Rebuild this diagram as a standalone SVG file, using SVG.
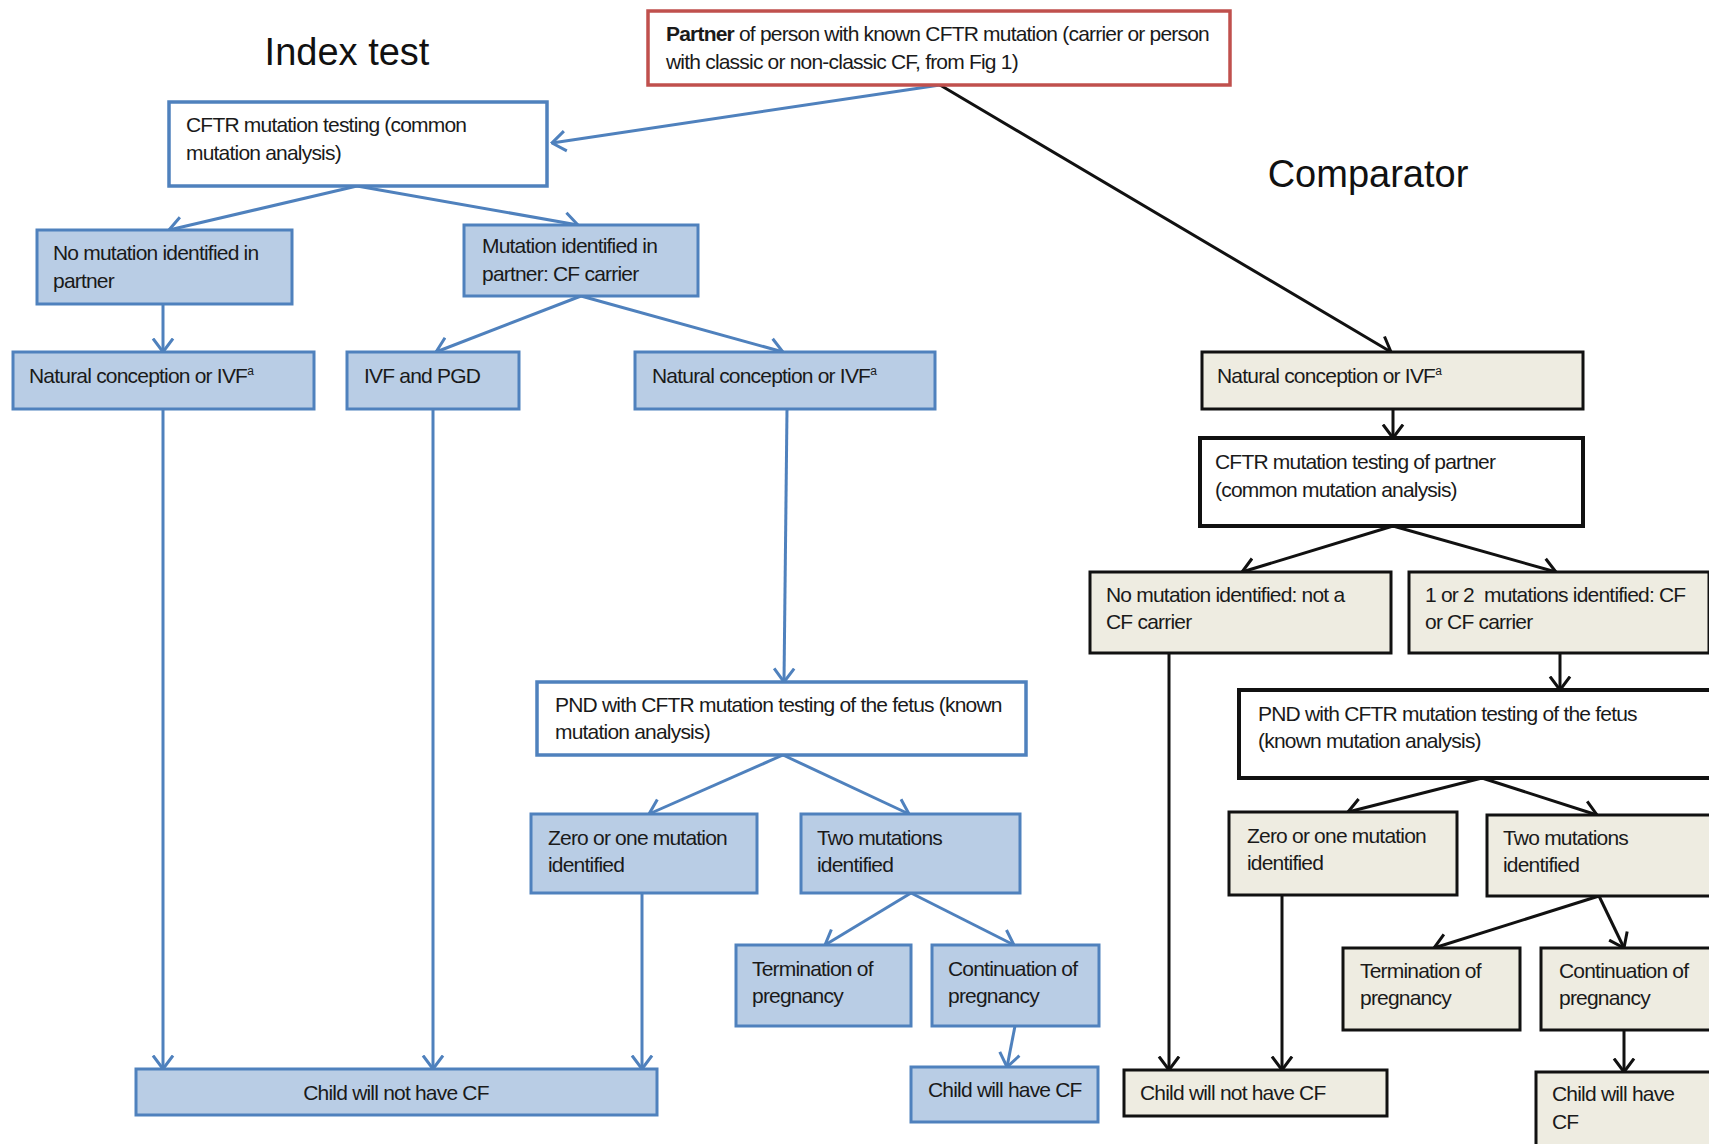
<svg xmlns="http://www.w3.org/2000/svg" width="1709" height="1144" viewBox="0 0 1709 1144">
<defs>
<style>
text{font-family:"Liberation Sans",Arial,sans-serif;font-size:21px;letter-spacing:-0.8px;fill:#1a1a1a}
.title{font-size:38px;letter-spacing:0;fill:#111}
.bb{fill:#b9cde5;stroke:#4f81bd;stroke-width:3}
.bw{fill:#fff;stroke:#4f81bd;stroke-width:3.5}
.kb{fill:#eeece1;stroke:#111;stroke-width:3}
.kw{fill:#fff;stroke:#111;stroke-width:4}
.red{fill:#fff;stroke:#c0504d;stroke-width:3.5}
.cb{stroke:#4f81bd;stroke-width:3;fill:none;marker-end:url(#ab)}
.ck{stroke:#111;stroke-width:3;fill:none;marker-end:url(#ak)}
</style>
<marker id="ab" viewBox="0 0 16 24" refX="14.5" refY="12" markerWidth="16" markerHeight="24" markerUnits="userSpaceOnUse" orient="auto">
<path d="M1,2 L14.5,12 L1,22" fill="none" stroke="#4f81bd" stroke-width="3"/>
</marker>
<marker id="ak" viewBox="0 0 16 24" refX="14.5" refY="12" markerWidth="16" markerHeight="24" markerUnits="userSpaceOnUse" orient="auto">
<path d="M1,2 L14.5,12 L1,22" fill="none" stroke="#111" stroke-width="3"/>
</marker>
</defs>
<rect width="1709" height="1144" fill="#fff"/>
<text class="title" x="347" y="65" text-anchor="middle">Index test</text>
<text class="title" x="1368" y="187" text-anchor="middle">Comparator</text>

<g id="connectors">
<line class="cb" x1="940" y1="85" x2="552" y2="143"/>
<line class="cb" x1="357" y1="186" x2="169" y2="230"/>
<line class="cb" x1="357" y1="186" x2="578" y2="225"/>
<line class="cb" x1="163" y1="304" x2="163" y2="352"/>
<line class="cb" x1="581" y1="296" x2="436" y2="352"/>
<line class="cb" x1="581" y1="296" x2="783" y2="352"/>
<line class="cb" x1="163" y1="409" x2="163" y2="1069"/>
<line class="cb" x1="433" y1="409" x2="433" y2="1069"/>
<line class="cb" x1="787" y1="409" x2="784" y2="682"/>
<line class="cb" x1="783" y1="755" x2="649" y2="814"/>
<line class="cb" x1="783" y1="755" x2="909" y2="814"/>
<line class="cb" x1="642" y1="893" x2="642" y2="1069"/>
<line class="cb" x1="911" y1="893" x2="825" y2="945"/>
<line class="cb" x1="911" y1="893" x2="1014" y2="945"/>
<line class="cb" x1="1015" y1="1026" x2="1007" y2="1067"/>
<line class="ck" x1="940" y1="85" x2="1391" y2="352"/>
<line class="ck" x1="1393" y1="409" x2="1393" y2="438"/>
<line class="ck" x1="1393" y1="526" x2="1242" y2="572"/>
<line class="ck" x1="1393" y1="526" x2="1556" y2="572"/>
<line class="ck" x1="1169" y1="653" x2="1169" y2="1070"/>
<line class="ck" x1="1560" y1="653" x2="1560" y2="690"/>
<line class="ck" x1="1482" y1="778" x2="1348" y2="812"/>
<line class="ck" x1="1482" y1="778" x2="1597" y2="815"/>
<line class="ck" x1="1282" y1="893" x2="1282" y2="1070"/>
<line class="ck" x1="1599" y1="896" x2="1434" y2="948"/>
<line class="ck" x1="1599" y1="896" x2="1624" y2="948"/>
<line class="ck" x1="1624" y1="1030" x2="1624" y2="1072"/>
</g>

<g id="partner">
<rect class="red" x="648" y="11" width="582" height="74"/>
<text x="666" y="41"><tspan font-weight="bold">Partner</tspan> of person with known CFTR mutation (carrier or person</text>
<text x="666" y="69">with classic or non-classic CF, from Fig 1)</text>
</g>

<g id="idx-cftr">
<rect class="bw" x="169" y="102" width="378" height="84"/>
<text x="186" y="132">CFTR mutation testing (common</text>
<text x="186" y="160">mutation analysis)</text>
</g>
<g id="idx-nomut">
<rect class="bb" x="37" y="230" width="255" height="74"/>
<text x="53" y="260">No mutation identified in</text>
<text x="53" y="288">partner</text>
</g>
<g id="idx-mut">
<rect class="bb" x="464" y="225" width="234" height="71"/>
<text x="482" y="253">Mutation identified in</text>
<text x="482" y="281">partner: CF carrier</text>
</g>
<g id="idx-nat1">
<rect class="bb" x="13" y="352" width="301" height="57"/>
<text x="29" y="383">Natural conception or IVF<tspan font-size="12" dy="-8">a</tspan></text>
</g>
<g id="idx-ivfpgd">
<rect class="bb" x="347" y="352" width="172" height="57"/>
<text x="364" y="383">IVF and PGD</text>
</g>
<g id="idx-nat2">
<rect class="bb" x="635" y="352" width="300" height="57"/>
<text x="652" y="383">Natural conception or IVF<tspan font-size="12" dy="-8">a</tspan></text>
</g>
<g id="idx-pnd">
<rect class="bw" x="537" y="682" width="489" height="73"/>
<text x="555" y="712">PND with CFTR mutation testing of the fetus (known</text>
<text x="555" y="739">mutation analysis)</text>
</g>
<g id="idx-zero">
<rect class="bb" x="531" y="814" width="226" height="79"/>
<text x="548" y="845">Zero or one mutation</text>
<text x="548" y="872">identified</text>
</g>
<g id="idx-two">
<rect class="bb" x="801" y="814" width="219" height="79"/>
<text x="817" y="845">Two mutations</text>
<text x="817" y="872">identified</text>
</g>
<g id="idx-term">
<rect class="bb" x="736" y="945" width="175" height="81"/>
<text x="752" y="976">Termination of</text>
<text x="752" y="1003">pregnancy</text>
</g>
<g id="idx-cont">
<rect class="bb" x="932" y="945" width="167" height="81"/>
<text x="948" y="976">Continuation of</text>
<text x="948" y="1003">pregnancy</text>
</g>
<g id="idx-havecf">
<rect class="bb" x="911" y="1067" width="187" height="55"/>
<text x="928" y="1097">Child will have CF</text>
</g>
<g id="idx-notcf">
<rect class="bb" x="136" y="1069" width="521" height="46"/>
<text x="396" y="1100" text-anchor="middle">Child will not have CF</text>
</g>

<g id="cmp-nat">
<rect class="kb" x="1202" y="352" width="381" height="57"/>
<text x="1217" y="383">Natural conception or IVF<tspan font-size="12" dy="-8">a</tspan></text>
</g>
<g id="cmp-cftr">
<rect class="kw" x="1200" y="438" width="383" height="88"/>
<text x="1215" y="469">CFTR mutation testing of partner</text>
<text x="1215" y="497">(common mutation analysis)</text>
</g>
<g id="cmp-nomut">
<rect class="kb" x="1090" y="572" width="301" height="81"/>
<text x="1106" y="602">No mutation identified: not a</text>
<text x="1106" y="629">CF carrier</text>
</g>
<g id="cmp-mut">
<rect class="kb" x="1409" y="572" width="300" height="81"/>
<text x="1425" y="602" style="white-space:pre">1 or 2  mutations identified: CF</text>
<text x="1425" y="629">or CF carrier</text>
</g>
<g id="cmp-pnd">
<rect class="kw" x="1239" y="690" width="472" height="88"/>
<text x="1258" y="721">PND with CFTR mutation testing of the fetus</text>
<text x="1258" y="748">(known mutation analysis)</text>
</g>
<g id="cmp-zero">
<rect class="kb" x="1229" y="812" width="228" height="83"/>
<text x="1247" y="843">Zero or one mutation</text>
<text x="1247" y="870">identified</text>
</g>
<g id="cmp-two">
<rect class="kb" x="1487" y="815" width="224" height="81"/>
<text x="1503" y="845">Two mutations</text>
<text x="1503" y="872">identified</text>
</g>
<g id="cmp-term">
<rect class="kb" x="1343" y="948" width="177" height="82"/>
<text x="1360" y="978">Termination of</text>
<text x="1360" y="1005">pregnancy</text>
</g>
<g id="cmp-cont">
<rect class="kb" x="1541" y="948" width="170" height="82"/>
<text x="1559" y="978">Continuation of</text>
<text x="1559" y="1005">pregnancy</text>
</g>
<g id="cmp-notcf">
<rect class="kb" x="1124" y="1070" width="263" height="46"/>
<text x="1140" y="1100">Child will not have CF</text>
</g>
<g id="cmp-havecf">
<rect class="kb" x="1536" y="1072" width="175" height="76"/>
<text x="1552" y="1101">Child will have</text>
<text x="1552" y="1129">CF</text>
</g>
</svg>
